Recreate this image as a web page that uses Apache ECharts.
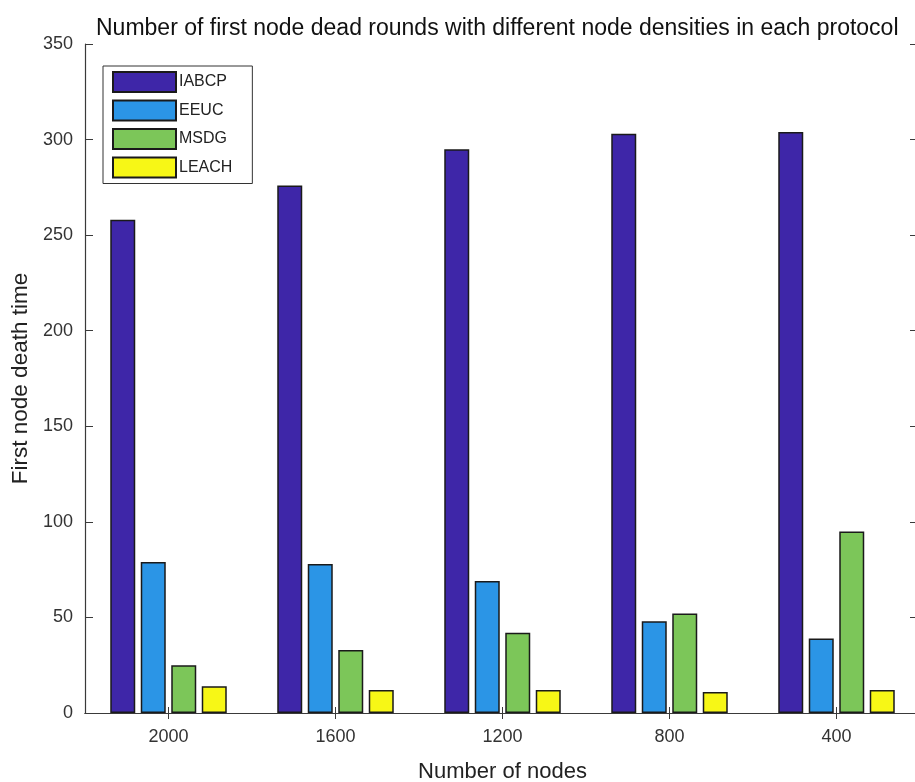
<!DOCTYPE html>
<html>
<head>
<meta charset="utf-8">
<script src="https://cdn.jsdelivr.net/npm/echarts@6/dist/echarts.min.js"></script>
<style>html,body{margin:0;padding:0;background:#fff;}#chart{width:915px;height:782px;}</style>
</head>
<body>
<div id="chart"></div>
<script>
const categories = ['2000', '1600', '1200', '800', '400'];
const seriesNames = ['IABCP', 'EEUC', 'MSDG', 'LEACH'];
const iabcp = [258, 276, 295, 303, 304];
const eeuc = [79, 78, 69, 48, 39];
const msdg = [25, 33, 42, 52, 95];
const leach = [14, 12, 12, 11, 12];
const yTicks = [0, 50, 100, 150, 200, 250, 300, 350];

const colors = ['#3E26A8', '#2B95E6', '#7CC659', '#F7F716'];
const values = [iabcp, eeuc, msdg, leach];
const FONT = 'Liberation Sans, Arial, Helvetica, sans-serif';

const chart = echarts.init(document.getElementById('chart'), null, {renderer: 'canvas'});
const axisColor = '#3a3a3a';

const series = seriesNames.map((n, i) => ({
  name: n,
  type: 'bar',
  xAxisIndex: 0,
  yAxisIndex: 0,
  data: values[i],
  barWidth: 25,
  barGap: '22%',
  itemStyle: {color: colors[i], borderColor: '#1a1a1a', borderWidth: 1.5},
  emphasis: {disabled: true}
}));

chart.setOption({
  animation: false,
  backgroundColor: '#ffffff',
  title: {
    text: 'Number of first node dead rounds with different node densities in each protocol',
    left: 91, top: 12,
    textStyle: {fontFamily: FONT, fontSize: 23, fontWeight: 'normal', color: '#111'}
  },
  legend: {
    orient: 'vertical',
    left: 103, top: 66,
    padding: [5, 20, 5, 9],
    itemWidth: 63, itemHeight: 20, itemGap: 6.5,
    backgroundColor: '#fff',
    borderColor: '#333', borderWidth: 1,
    icon: 'rect',
    textStyle: {fontFamily: FONT, fontSize: 16, lineHeight: 20, color: '#222', padding: [0,0,0,-2]},
    data: seriesNames
  },
  grid: {left: 85, top: 44, width: 835, bottom: 69, containLabel: false, outerBoundsMode: 'none'},
  xAxis: [{
    type: 'category',
    data: categories,
    position: 'bottom',
    axisLine: {show: true, lineStyle: {color: axisColor, width: 1.2}},
    axisTick: {show: true, inside: true, alignWithLabel: true, length: 6, lineStyle: {color: axisColor}},
    axisLabel: {fontFamily: FONT, fontSize: 18, color: '#333', margin: 15},
    name: 'Number of nodes',
    nameLocation: 'middle',
    nameGap: 48,
    nameTextStyle: {fontFamily: FONT, fontSize: 22, color: '#222'}
  }, {
    type: 'category',
    data: categories,
    position: 'top',
    axisLine: {show: true, lineStyle: {color: axisColor, width: 1.2}},
    axisTick: {show: true, inside: true, alignWithLabel: true, length: 6, lineStyle: {color: axisColor}},
    axisLabel: {show: false}
  }],
  yAxis: [{
    type: 'value',
    min: 0, max: 350, interval: 50,
    position: 'left',
    axisLine: {show: true, lineStyle: {color: axisColor, width: 1.2}},
    axisTick: {show: true, inside: true, length: 8, lineStyle: {color: axisColor}},
    splitLine: {show: false},
    axisLabel: {fontFamily: FONT, fontSize: 18, color: '#333', margin: 12,
      formatter: v => yTicks.includes(v) ? String(v) : ''},
    name: 'First node death time',
    nameLocation: 'middle',
    nameGap: 53,
    nameTextStyle: {fontFamily: FONT, fontSize: 22.5, color: '#222'}
  }, {
    type: 'value',
    min: 0, max: 350, interval: 50,
    position: 'right',
    axisLine: {show: false},
    axisTick: {show: true, inside: true, length: 10, lineStyle: {color: axisColor}},
    splitLine: {show: false},
    axisLabel: {show: false}
  }],
  series: series
});
</script>
</body>
</html>
